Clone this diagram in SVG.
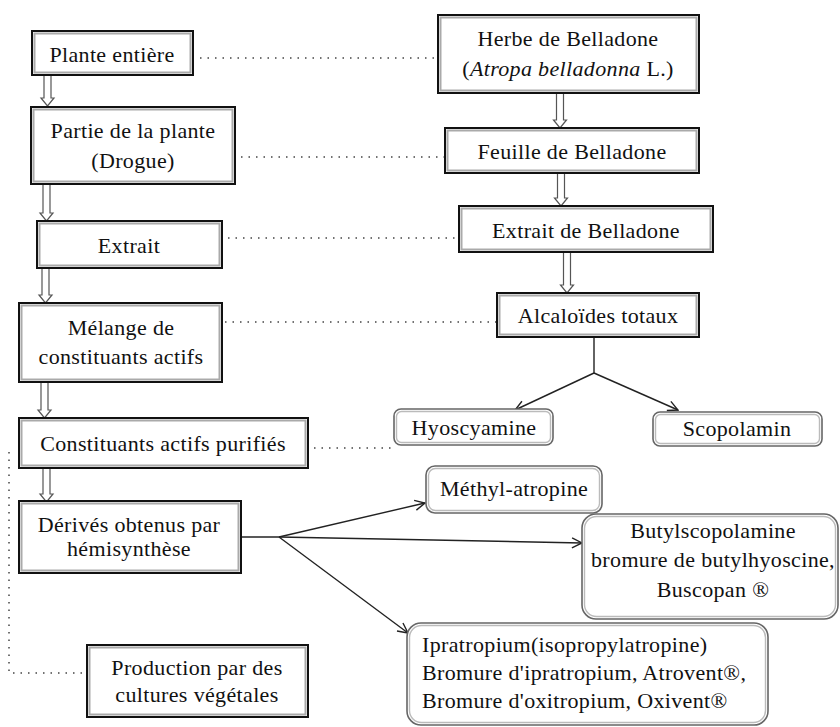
<svg xmlns="http://www.w3.org/2000/svg" width="840" height="727" viewBox="0 0 840 727">
<style>
text{font-family:"Liberation Serif","Times New Roman",serif;font-size:22px;fill:#111;letter-spacing:0.35px;}
.c{text-anchor:middle;}
.bo{fill:#fff;stroke:#111;stroke-width:2;}
.bi{fill:none;stroke:#aaa;stroke-width:2;}
.ro{fill:#fff;stroke:#666;stroke-width:1.6;}
.ri{fill:none;stroke:#bbb;stroke-width:1.4;}
.dot{fill:none;stroke:#444;stroke-width:1.5;stroke-dasharray:1.5 6;}
.ln{fill:none;stroke:#222;stroke-width:1.4;}
.ha{fill:#fff;stroke:#555;stroke-width:1.2;}
</style>
<defs>
<marker id="v" viewBox="0 0 12 12" refX="11" refY="6" markerWidth="12" markerHeight="12" markerUnits="userSpaceOnUse" orient="auto">
<path d="M1,1 L11,6 L1,11" fill="none" stroke="#222" stroke-width="1.4"/>
</marker>
</defs>
<g id="connectors">
<path class="dot" d="M200,58 H440"/>
<path class="dot" d="M241,157 H445"/>
<path class="dot" d="M228,238 H459"/>
<path class="dot" d="M225,322 H497"/>
<path class="dot" d="M314,448 H392"/>
<path class="dot" d="M9,452 V673 H87"/>
<polygon class="ha" points="44,75 51,75 51,98 54,98 47.5,106 41,98 44,98"/>
<polygon class="ha" points="43,184 50,184 50,213 53,213 46.5,221 40,213 43,213"/>
<polygon class="ha" points="42,268 49,268 49,295 52,295 45.5,303 39,295 42,295"/>
<polygon class="ha" points="41,382 48,382 48,410 51,410 44.5,418 38,410 41,410"/>
<polygon class="ha" points="43,468 50,468 50,494 53,494 46.5,502 40,494 43,494"/>
<polygon class="ha" points="556.5,93 563.5,93 563.5,120 566.5,120 560,128 553.5,120 556.5,120"/>
<polygon class="ha" points="557.5,173 564.5,173 564.5,198 567.5,198 561,206 554.5,198 557.5,198"/>
<polygon class="ha" points="563.5,252 570.5,252 570.5,285 573.5,285 567,293 560.5,285 563.5,285"/>
<path class="ln" d="M594,337 V373"/>
<path class="ln" d="M594,373 L515,410" marker-end="url(#v)"/>
<path class="ln" d="M594,373 L678,410" marker-end="url(#v)"/>
<path class="ln" d="M241,537 H279"/>
<path class="ln" d="M279,537 L425,503" marker-end="url(#v)"/>
<path class="ln" d="M279,537 L582,543" marker-end="url(#v)"/>
<path class="ln" d="M279,537 L408,633" marker-end="url(#v)"/>
</g>
<g id="plante-entiere">
<rect class="bo" x="32" y="31" width="161" height="44"/>
<rect class="bi" x="34.5" y="33.5" width="156" height="39"/>
<text class="c" x="112" y="62">Plante entière</text>
</g>
<g id="partie-plante">
<rect class="bo" x="31" y="107" width="204" height="77"/>
<rect class="bi" x="33.5" y="109.5" width="199" height="72"/>
<text class="c" x="133" y="138">Partie de la plante</text>
<text class="c" x="133" y="168">(Drogue)</text>
</g>
<g id="extrait">
<rect class="bo" x="37" y="221" width="185" height="47"/>
<rect class="bi" x="39.5" y="223.5" width="180" height="42"/>
<text class="c" x="129" y="253">Extrait</text>
</g>
<g id="melange">
<rect class="bo" x="19" y="303" width="203" height="79"/>
<rect class="bi" x="21.5" y="305.5" width="198" height="74"/>
<text class="c" x="121" y="335">Mélange de</text>
<text class="c" x="121" y="364">constituants actifs</text>
</g>
<g id="constituants-purifies">
<rect class="bo" x="19" y="418" width="289" height="50"/>
<rect class="bi" x="21.5" y="420.5" width="284" height="45"/>
<text class="c" x="163" y="451">Constituants actifs purifiés</text>
</g>
<g id="derives">
<rect class="bo" x="19" y="501" width="222" height="72"/>
<rect class="bi" x="21.5" y="503.5" width="217" height="67"/>
<text class="c" x="129" y="532">Dérivés obtenus par</text>
<text class="c" x="129" y="556">hémisynthèse</text>
</g>
<g id="production">
<rect class="bo" x="87" y="645" width="221" height="72"/>
<rect class="bi" x="89.5" y="647.5" width="216" height="67"/>
<text class="c" x="197" y="675">Production par des</text>
<text class="c" x="197" y="702">cultures végétales</text>
</g>
<g id="herbe-belladone">
<rect class="bo" x="438" y="15" width="261" height="78"/>
<rect class="bi" x="440.5" y="17.5" width="256" height="73"/>
<text class="c" x="568" y="46">Herbe de Belladone</text>
<text class="c" x="568" y="76">(<tspan font-style="italic">Atropa belladonna</tspan> L.)</text>
</g>
<g id="feuille-belladone">
<rect class="bo" x="445" y="128" width="254" height="45"/>
<rect class="bi" x="447.5" y="130.5" width="249" height="40"/>
<text class="c" x="572" y="159">Feuille de Belladone</text>
</g>
<g id="extrait-belladone">
<rect class="bo" x="459" y="206" width="254" height="46"/>
<rect class="bi" x="461.5" y="208.5" width="249" height="41"/>
<text class="c" x="586" y="238">Extrait de Belladone</text>
</g>
<g id="alcaloides">
<rect class="bo" x="497" y="293" width="202" height="44"/>
<rect class="bi" x="499.5" y="295.5" width="197" height="39"/>
<text class="c" x="598" y="323">Alcaloïdes totaux</text>
</g>
<g id="hyoscyamine">
<rect class="ro" x="394" y="409" width="159" height="36" rx="7"/>
<rect class="ri" x="396.5" y="411.5" width="154" height="31" rx="5"/>
<text class="c" x="474" y="435">Hyoscyamine</text>
</g>
<g id="scopolamin">
<rect class="ro" x="653" y="412" width="169" height="34" rx="7"/>
<rect class="ri" x="655.5" y="414.5" width="164" height="29" rx="5"/>
<text class="c" x="737" y="436">Scopolamin</text>
</g>
<g id="methyl-atropine">
<rect class="ro" x="426" y="466" width="176" height="47" rx="9"/>
<rect class="ri" x="428.5" y="468.5" width="171" height="42" rx="7"/>
<text class="c" x="514" y="496">Méthyl-atropine</text>
</g>
<g id="butylscopolamine">
<rect class="ro" x="582" y="514" width="256" height="105" rx="14"/>
<rect class="ri" x="584.5" y="516.5" width="251" height="100" rx="12"/>
<text class="c" x="713" y="538">Butylscopolamine</text>
<text class="c" x="713" y="567">bromure de butylhyoscine,</text>
<text class="c" x="713" y="597">Buscopan ®</text>
</g>
<g id="ipratropium">
<rect class="ro" x="407" y="623" width="361" height="102" rx="14"/>
<rect class="ri" x="409.5" y="625.5" width="356" height="97" rx="12"/>
<text x="422" y="652">Ipratropium(isopropylatropine)</text>
<text x="422" y="680">Bromure d'ipratropium, Atrovent®,</text>
<text x="422" y="708">Bromure d'oxitropium, Oxivent®</text>
</g>
</svg>
